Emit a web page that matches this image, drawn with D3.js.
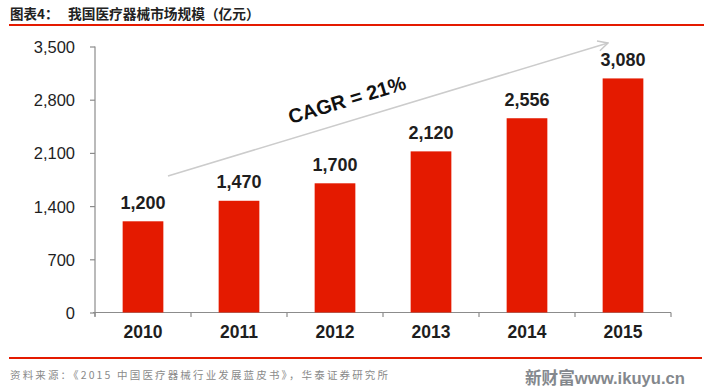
<!DOCTYPE html>
<html>
<head>
<meta charset="utf-8">
<script src="https://cdn.jsdelivr.net/npm/d3@7"></script>
<style>
  html, body { margin: 0; padding: 0; background: #fff; }
  svg { display: block; }
</style>
</head>
<body>
<div id="chart"></div>
<script>
const categories = ["2010", "2011", "2012", "2013", "2014", "2015"];
const values = [1200, 1470, 1700, 2120, 2556, 3080];
const yTicks = [0, 700, 1400, 2100, 2800, 3500];
const titleLabel = "图表4：";
const titleText = "我国医疗器械市场规模（亿元）";
const cagrText = "CAGR = 21%";
const sourceText = "资料来源：《2015 中国医疗器械行业发展蓝皮书》，华泰证券研究所";
const watermark = "新财富www.ikuyu.cn";

const W = 704, H = 392;
const svg = d3.select("#chart").append("svg").attr("width", W).attr("height", H);
const red = "#e41a00";
const axisColor = "#8c8c8c";
const textColor = "#1e1e1e";
const latin = "'Liberation Sans', Arial, 'Noto Sans CJK SC', sans-serif";
const cjk = "'Noto Sans CJK SC', sans-serif";

// Title
svg.append("text").attr("x", 10).attr("y", 19).text(titleLabel)
  .attr("font-family", cjk).attr("font-weight", 700).attr("font-size", 13.5).attr("fill", "#222");
svg.append("text").attr("x", 68).attr("y", 19).text(titleText)
  .attr("font-family", cjk).attr("font-weight", 700).attr("font-size", 13.7).attr("fill", "#222");
svg.append("line").attr("x1", 9).attr("x2", 704).attr("y1", 25).attr("y2", 25)
  .attr("stroke", red).attr("stroke-width", 2);

// Scales
const x = d3.scaleBand().domain(categories).range([95, 671])
  .paddingInner(0.576).paddingOuter(0.288);
const y = d3.scaleLinear().domain([0, 3500]).range([312.5, 46.5]);

// Y axis
const yAxis = d3.axisLeft(y).tickValues(yTicks).tickSize(5).tickFormat(d3.format(","));
const yg = svg.append("g").attr("transform", "translate(95,0)").call(yAxis);
yg.select(".domain").attr("d", `M0,${y(3500)}V${y(0) + 4}`).attr("stroke", axisColor).attr("stroke-width", 1.2);
yg.selectAll(".tick line").attr("stroke", axisColor).attr("stroke-width", 1.2);
yg.selectAll(".tick text").attr("x", -20).attr("dy", "0.36em")
  .attr("font-family", latin).attr("font-size", 16.5).attr("fill", textColor);

// X axis with ticks at band boundaries
const step = x.step();
const xg = svg.append("g").attr("transform", `translate(0,${y(0)})`);
xg.append("line").attr("x1", 93).attr("x2", 671).attr("y1", 0).attr("y2", 0)
  .attr("stroke", axisColor).attr("stroke-width", 1.2);
const boundaries = categories.map(c => x(c) - x.step() * x.paddingInner() / 2 ).concat([671]);
xg.selectAll(".bt").data(boundaries).enter().append("line")
  .attr("x1", d => d).attr("x2", d => d).attr("y1", 0).attr("y2", 4.5)
  .attr("stroke", axisColor).attr("stroke-width", 1.2);
xg.selectAll(".xl").data(categories).enter().append("text")
  .attr("x", d => x(d) + x.bandwidth() / 2).attr("y", 25.5)
  .attr("text-anchor", "middle").text(d => d)
  .attr("font-family", latin).attr("font-weight", 700).attr("font-size", 17.5).attr("fill", textColor);

// Bars
svg.selectAll(".bar").data(values).enter().append("rect")
  .attr("x", (d, i) => x(categories[i]))
  .attr("width", x.bandwidth())
  .attr("y", d => y(d))
  .attr("height", d => y(0) - y(d))
  .attr("fill", red);

// Value labels
svg.selectAll(".vl").data(values).enter().append("text")
  .attr("x", (d, i) => x(categories[i]) + x.bandwidth() / 2)
  .attr("y", d => y(d) - 12.5)
  .attr("text-anchor", "middle").text(d => d3.format(",")(d))
  .attr("font-family", latin).attr("font-weight", 700).attr("font-size", 18).attr("fill", textColor);

// CAGR arrow
const ax1 = 168, ay1 = 176, ax2 = 608, ay2 = 43;
svg.append("defs").append("marker").attr("id", "arr")
  .attr("viewBox", "0 0 12 12").attr("refX", 11).attr("refY", 6)
  .attr("markerWidth", 12).attr("markerHeight", 12).attr("markerUnits", "userSpaceOnUse")
  .attr("orient", "auto")
  .append("path").attr("d", "M1,1L11,6L1,11").attr("fill", "none")
  .attr("stroke", "#c8c8c8").attr("stroke-width", 1.5);
svg.append("line").attr("x1", ax1).attr("y1", ay1).attr("x2", ax2).attr("y2", ay2)
  .attr("stroke", "#cccccc").attr("stroke-width", 1.6).attr("marker-end", "url(#arr)");
const ang = Math.atan2(ay2 - ay1, ax2 - ax1) * 180 / Math.PI;
svg.append("text").attr("transform", `translate(349,106.5) rotate(${ang})`)
  .attr("text-anchor", "middle").text(cagrText)
  .attr("font-family", latin).attr("font-weight", 700).attr("font-size", 20).attr("fill", "#111");

// Footer
svg.append("line").attr("x1", 9).attr("x2", 702).attr("y1", 358).attr("y2", 358)
  .attr("stroke", red).attr("stroke-width", 2);
svg.append("text").attr("x", 10).attr("y", 379).text(sourceText)
  .attr("font-family", cjk).attr("font-size", 10.5).attr("fill", "#8a8a8a")
  .attr("textLength", 378).attr("lengthAdjust", "spacing");
svg.append("text").attr("x", 525).attr("y", 384).text(watermark)
  .attr("font-family", latin).attr("font-weight", 700).attr("font-size", 16.5).attr("fill", "#84888d")
  .attr("textLength", 160).attr("lengthAdjust", "spacingAndGlyphs");
</script>
</body>
</html>
